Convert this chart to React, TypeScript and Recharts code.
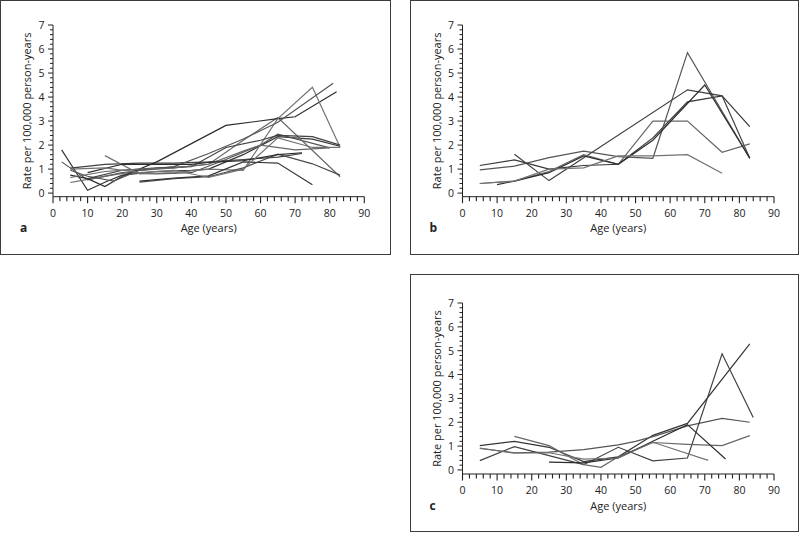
import { LineChart, Line, XAxis, YAxis, Label } from 'recharts';

const FONT = '"Open Sans", "Noto Sans", sans-serif';
const INK = '#222222';

const ageTicks = [
  0, 2, 4, 6, 8, 10, 12, 14, 16, 18, 20, 22, 24, 26, 28, 30, 32, 34, 36, 38, 40,
  42, 44, 46, 48, 50, 52, 54, 56, 58, 60, 62, 64, 66, 68, 70, 72, 74, 76, 78, 80,
  82, 84, 86, 88, 90,
];
const rateTicks = [
  0, 0.2, 0.4, 0.6, 0.8, 1, 1.2, 1.4, 1.6, 1.8, 2, 2.2, 2.4, 2.6, 2.8, 3, 3.2, 3.4,
  3.6, 3.8, 4, 4.2, 4.4, 4.6, 4.8, 5, 5.2, 5.4, 5.6, 5.8, 6, 6.2, 6.4, 6.6, 6.8, 7,
];

// [age, rate] pairs, panel a
const a01 = [[2.5, 1.8], [10, 0.12], [15, 0.45], [20, 0.75], [30, 0.9], [40, 0.95], [45, 1.0], [55, 1.6], [65, 2.35], [75, 2.25], [83, 1.95]];
const a02 = [[2.5, 1.3], [10, 0.55], [20, 0.85], [30, 0.8], [40, 0.85], [50, 1.4], [60, 2.0], [65, 2.45], [80, 1.88]];
const a03 = [[5, 1.04], [15, 1.2], [25, 1.25], [35, 1.25], [45, 1.3], [55, 1.4], [65, 1.5], [72, 1.65]];
const a04 = [[5, 0.44], [15, 0.7], [25, 0.95], [35, 1.05], [45, 1.2], [55, 2.2], [65, 3.15], [83, 0.68]];
const a05 = [[5, 0.75], [10, 0.6], [15, 0.27], [20, 0.7], [30, 1.3], [50, 2.82], [65, 3.1], [70, 3.18], [82, 4.22]];
const a06 = [[15, 1.56], [25, 0.8], [35, 0.85], [45, 1.0], [55, 0.95], [65, 3.1], [75, 4.41], [83, 1.91]];
const a07 = [[25, 0.46], [35, 0.6], [45, 0.68], [55, 1.05], [65, 1.62], [75, 1.22], [83, 0.75]];
const a08 = [[25, 0.5], [35, 0.62], [45, 0.72], [55, 1.3], [65, 1.25], [75, 0.35]];
const a09 = [[5, 0.95], [10, 0.7], [17.5, 0.5], [25, 0.95], [35, 1.1], [45, 1.65], [55, 2.25], [65, 2.95], [81, 4.57]];
const a10 = [[10, 0.6], [20, 0.95], [30, 1.05], [40, 1.1], [50, 1.9], [60, 2.2], [65, 2.4], [75, 2.35], [83, 2.0]];
const a11 = [[5, 0.65], [15, 0.9], [25, 1.0], [35, 1.05], [45, 1.2], [55, 1.75], [60, 2.0], [70, 1.8], [80, 1.88]];
const a12 = [[10, 0.85], [20, 1.2], [30, 1.2], [40, 1.2], [45, 1.28], [55, 1.35], [65, 1.6], [72, 1.68]];
const a13 = [[5, 1.0], [15, 1.05], [25, 0.85], [35, 0.95], [45, 0.65], [55, 1.0], [65, 2.3], [75, 1.9], [83, 1.9]];

// panel b
const b01 = [[5, 1.15], [15, 1.38], [25, 1.0], [35, 1.15], [45, 1.2], [55, 2.3], [65, 3.8], [75, 4.05], [83, 2.77]];
const b02 = [[5, 0.97], [15, 1.12], [25, 1.48], [35, 1.75], [45, 1.52], [55, 1.45], [65, 5.85], [83, 1.45]];
const b03 = [[15, 1.62], [25, 0.52], [65, 4.3], [75, 4.05], [83, 1.45]];
const b04 = [[5, 0.4], [15, 0.5], [25, 0.9], [35, 1.6], [45, 1.2], [55, 3.0], [65, 3.0], [75, 1.7], [83, 2.05]];
const b05 = [[10, 0.35], [15, 0.5], [25, 0.85], [35, 1.55], [45, 1.2], [55, 2.2], [70, 4.5], [83, 1.45]];
const b06 = [[5, 0.4], [15, 0.5], [25, 1.0], [35, 1.05], [45, 1.55], [55, 1.55], [65, 1.6], [75, 0.83]];

// panel c
const c01 = [[5, 1.02], [15, 1.2], [25, 0.95], [35, 0.35], [45, 0.55], [55, 1.45], [65, 1.95], [83, 5.29]];
const c02 = [[5, 0.9], [15, 0.72], [25, 0.75], [35, 0.85], [45, 1.05], [50, 1.2], [55, 1.4], [65, 1.85], [75, 2.16], [83, 2.0]];
const c03 = [[5, 0.39], [15, 0.98], [25, 0.6], [35, 0.22], [45, 0.95], [55, 0.38], [65, 0.5], [75, 4.87], [84, 2.2]];
const c04 = [[15, 1.41], [25, 1.02], [35, 0.22], [40, 0.11], [45, 0.55], [55, 1.15], [65, 1.07], [75, 1.02], [83, 1.44]];
const c05 = [[25, 0.33], [35, 0.3], [45, 0.5], [55, 1.2], [65, 1.9], [76, 0.46]];
const c06 = [[5, 0.92], [15, 0.7], [25, 0.72], [35, 0.45], [45, 0.5], [55, 1.16], [71, 0.4]];

const greys = ['#363636', '#555555', '#414141', '#676767', '#2c2c2c', '#737373', '#4b4b4b'];

const toPoints = (arr: number[][]) => arr.map(([x, y]) => ({ x, y }));

// tickSize and tickMargin are 0, so x/y sit on the axis line.
// tick marks are thin rects (stroked paths did not show up here)
const XTick = (props: any) => {
  const { x, y, payload } = props;
  const major = payload.value % 10 === 0;
  return (
    <g>
      <rect x={x - 0.55} y={y} width={1.1} height={major ? 6.5 : 4.5} fill={INK} />
      {major && (
        <text x={x} y={y + 20} textAnchor="middle" fontSize={10.5} fill={INK} fontFamily={FONT}>
          {payload.value}
        </text>
      )}
    </g>
  );
};

const YTick = (props: any) => {
  const { x, y, payload } = props;
  const major = Math.abs(payload.value - Math.round(payload.value)) < 1e-6;
  const len = major ? 5 : 3;
  return (
    <g>
      <rect x={x - len} y={y - 0.5} width={len} height={1} fill={INK} />
      {major && (
        <text x={x - 8.5} y={y + 4} textAnchor="end" fontSize={10.5} fill={INK} fontFamily={FONT}>
          {Math.round(payload.value)}
        </text>
      )}
    </g>
  );
};

interface PanelProps {
  left: number; top: number; width: number; height: number;
  plotLeft: number; plotTop: number; plotRight: number; plotBottom: number;
  yMin: number; letter: string; series: number[][][];
}

function Panel(p: PanelProps) {
  const xAxisH = 40;
  return (
    <div style={{
      position: 'absolute', left: p.left, top: p.top, width: p.width, height: p.height,
      border: '1px solid #3c3c3c', boxSizing: 'border-box',
    }}>
      <div style={{ position: 'absolute', left: -1, top: -1 }}>
        <LineChart
          width={p.width}
          height={p.height}
          margin={{ top: p.plotTop, right: p.width - p.plotRight, bottom: p.height - p.plotBottom - xAxisH, left: 0 }}
        >
          <XAxis
            type="number" dataKey="x" domain={[0, 90]} ticks={ageTicks} interval={0}
            tick={<XTick />} tickLine={false} tickSize={0} tickMargin={0}
            axisLine={{ stroke: INK, strokeWidth: 1 }} height={xAxisH} allowDataOverflow
          >
            <Label
              content={(lp: any) => {
                const vb = lp.viewBox || {};
                return (
                  <g>
                    <text x={vb.x + vb.width / 2} y={vb.y + 35.5} textAnchor="middle" fontSize={11} fill={INK} fontFamily={FONT}>
                      Age (years)
                    </text>
                    <text x={vb.x - 33} y={vb.y + 35.5} fontSize={12} fontWeight="bold" fill={INK} fontFamily={FONT}>
                      {p.letter}
                    </text>
                  </g>
                );
              }}
            />
          </XAxis>
          <YAxis
            type="number" domain={[p.yMin, 7]} ticks={rateTicks} interval={0}
            tick={<YTick />} tickLine={false} tickSize={0} tickMargin={0}
            axisLine={{ stroke: INK, strokeWidth: 1 }} width={p.plotLeft} allowDataOverflow
          >
            <Label
              content={(lp: any) => {
                const vb = lp.viewBox || {};
                const cx = vb.x + vb.width / 2 + 0.5;
                const cy = vb.y + vb.height / 2;
                return (
                  <text x={cx} y={cy} transform={`rotate(-90 ${cx} ${cy})`} textAnchor="middle" dominantBaseline="central"
                    fontSize={11} fill={INK} fontFamily={FONT}>
                    Rate per 100,000 person-years
                  </text>
                );
              }}
            />
          </YAxis>
          {p.series.map((s, i) => (
            <Line
              key={i}
              data={toPoints(s)}
              dataKey="y"
              type="linear"
              stroke={greys[i % greys.length]}
              strokeWidth={1.2}
              dot={false}
              activeDot={false}
              isAnimationActive={false}
            />
          ))}
        </LineChart>
      </div>
    </div>
  );
}

export default function App() {
  return (
    <div style={{ position: 'absolute', left: 0, top: 0, width: 800, height: 534, background: '#fff', fontFamily: FONT }}>
      <Panel left={0} top={0} width={391} height={255}
        plotLeft={53} plotTop={25} plotRight={364.3} plotBottom={196.7} yMin={-0.15} letter="a"
        series={[a01, a02, a03, a04, a05, a06, a07, a08, a09, a10, a11, a12, a13]} />
      <Panel left={410} top={0} width={389} height={255}
        plotLeft={52.5} plotTop={25} plotRight={364} plotBottom={196.7} yMin={-0.15} letter="b"
        series={[b01, b02, b03, b04, b05, b06]} />
      <Panel left={410} top={274} width={389} height={258}
        plotLeft={52.5} plotTop={29} plotRight={364} plotBottom={200} yMin={-0.17} letter="c"
        series={[c01, c02, c03, c04, c05, c06]} />
    </div>
  );
}
